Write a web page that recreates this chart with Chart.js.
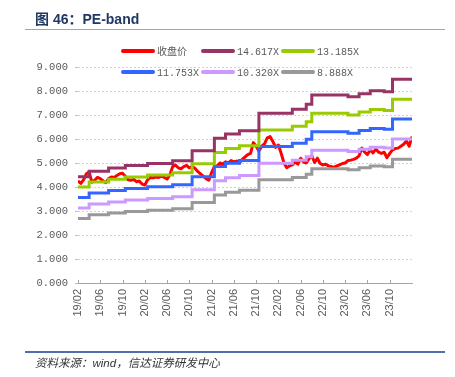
<!DOCTYPE html>
<html>
<head>
<meta charset="utf-8">
<script src="https://cdn.jsdelivr.net/npm/chart.js@4.4.0/dist/chart.umd.min.js"></script>
<style>
  html, body { margin: 0; padding: 0; background: #fff; }
  #wrap { position: relative; width: 455px; height: 377px; overflow: hidden; }
  #pe { position: absolute; left: 0; top: 0; }
  .title { position: absolute; left: 35px; top: 8px; font: bold 14px "Liberation Sans", "Noto Sans CJK SC", sans-serif; color: #1f3864; white-space: nowrap; }
  .rule-top { position: absolute; left: 25px; top: 29px; width: 420px; height: 1px; background: #a6a6a6; }
  .rule-bottom { position: absolute; left: 25px; top: 351px; width: 420px; height: 2px; background: #4f6fa8; }
  .source { position: absolute; left: 35px; top: 354px; font: italic 11.5px "Liberation Sans", "Noto Sans CJK SC", sans-serif; color: #333; white-space: nowrap; }
</style>
</head>
<body>
<div id="wrap">
  <canvas id="pe" width="455" height="377"></canvas>
  <div class="title">图 46：PE-band</div>
  <div class="rule-top"></div>
  <div class="rule-bottom"></div>
  <div class="source">资料来源：wind，信达证券研发中心</div>
</div>
<script>
// x axis: months counted from 2019/02, one tick every 4 months
const tickLabels = ['19/02','19/06','19/10','20/02','20/06','20/10','21/02','21/06','21/10','22/02','22/06','22/10','23/02','23/06','23/10'];

// closing price, one reading every half month from 19/02 to 24/02
const closePrice = [
  4.25, 4.15, 4.30, 4.55, 4.62, 4.20, 4.28, 4.40, 4.35, 4.25,
  4.18, 4.35, 4.42, 4.40, 4.48, 4.55, 4.57, 4.45, 4.30, 4.28,
  4.32, 4.22, 4.25, 4.12, 4.08, 4.30, 4.40, 4.38, 4.42, 4.40,
  4.45, 4.40, 4.33, 4.50, 4.85, 4.92, 4.80, 4.76, 4.85, 4.90,
  4.80, 4.85, 4.78, 4.65, 4.55, 4.45, 4.35, 4.28, 4.60, 4.85,
  4.88, 5.00, 4.95, 5.05, 5.00, 5.10, 5.05, 5.08, 5.00, 5.15,
  5.25, 5.35, 5.40, 5.85, 5.70, 5.50, 5.70, 5.80, 6.05, 6.10,
  5.90, 5.65, 5.75, 5.40, 5.00, 4.80, 4.88, 4.92, 5.05, 4.95,
  5.20, 5.05, 5.00, 5.18, 5.30, 5.02, 5.20, 4.98, 4.92, 4.95,
  4.88, 4.85, 4.82, 4.88, 4.92, 4.98, 5.00, 5.10, 5.12, 5.15,
  5.20, 5.30, 5.62, 5.45, 5.35, 5.55, 5.42, 5.58, 5.45, 5.40,
  5.45, 5.22, 5.40, 5.55, 5.60, 5.62, 5.70, 5.78, 5.92, 5.70,
  6.10
];

// PE bands change in steps; month where each level starts
const stepMonths = [0, 2, 5.5, 8.5, 12.5, 17, 20.5, 24.5, 26.5, 29, 32.5, 38.5, 41, 42, 48.5, 50.5, 52.5, 55, 56.5, 60];
const band14617 = [4.43, 4.66, 4.79, 4.90, 4.98, 5.09, 5.51, 6.03, 6.21, 6.34, 7.07, 7.24, 7.45, 7.83, 7.76, 7.89, 8.01, 7.97, 8.49, 8.49];
const band13185 = [4.00, 4.21, 4.32, 4.42, 4.50, 4.59, 4.97, 5.44, 5.60, 5.72, 6.38, 6.53, 6.72, 7.07, 7.00, 7.12, 7.23, 7.19, 7.66, 7.66];
const band11753 = [3.56, 3.75, 3.85, 3.94, 4.01, 4.09, 4.43, 4.85, 4.99, 5.10, 5.69, 5.82, 5.99, 6.30, 6.24, 6.35, 6.44, 6.41, 6.83, 6.83];
const band10320 = [3.13, 3.29, 3.38, 3.46, 3.52, 3.59, 3.89, 4.26, 4.39, 4.48, 4.99, 5.11, 5.26, 5.53, 5.48, 5.57, 5.66, 5.62, 6.00, 6.00];
const band8888  = [2.69, 2.84, 2.92, 2.98, 3.03, 3.09, 3.35, 3.67, 3.78, 3.86, 4.30, 4.40, 4.53, 4.76, 4.72, 4.80, 4.87, 4.84, 5.16, 5.16];

const seriesNames = ['收盘价', '14.617X', '13.185X', '11.753X', '10.320X', '8.888X'];
const colors = ['#ff0000', '#993366', '#99cc00', '#3366ff', '#cc99ff', '#999999'];

const pricePts = closePrice.map((v, i) => ({ x: i * 0.5, y: v }));
const stepPts = arr => arr.map((v, i) => ({ x: stepMonths[i], y: v }));

function band(idx, arr) {
  return {
    label: seriesNames[idx], data: stepPts(arr), borderColor: colors[idx],
    borderWidth: 3, pointRadius: 0, stepped: 'before', order: 0
  };
}

// legend laid out in two rows of three, like the original
const fixedLegend = {
  id: 'fixedLegend',
  afterDraw(chart) {
    const ctx = chart.ctx;
    const spots = [[122, 51], [202, 51], [282, 51], [122, 72], [202, 72], [282, 72]];
    ctx.save();
    ctx.font = '10px "Liberation Mono", "Noto Sans CJK SC", monospace';
    ctx.textBaseline = 'middle';
    spots.forEach(([x, y], i) => {
      ctx.strokeStyle = colors[i];
      ctx.lineWidth = 4;
      ctx.lineCap = 'round';
      ctx.beginPath();
      ctx.moveTo(x + 1, y);
      ctx.lineTo(x + 31, y);
      ctx.stroke();
      ctx.fillStyle = '#595959';
      ctx.fillText(seriesNames[i], x + 35, y + 1);
    });
    ctx.restore();
  }
};

// short tick marks pointing up from the x axis
const innerTicks = {
  id: 'innerTicks',
  afterDraw(chart) {
    const xs = chart.scales.x, ctx = chart.ctx, b = chart.chartArea.bottom;
    ctx.save();
    ctx.strokeStyle = '#a6a6a6';
    ctx.lineWidth = 1;
    xs.ticks.forEach(t => {
      if (t.value > 56) return;
      const px = Math.round(xs.getPixelForValue(t.value)) + 0.5;
      ctx.beginPath();
      ctx.moveTo(px, b - 3);
      ctx.lineTo(px, b);
      ctx.stroke();
    });
    ctx.restore();
  }
};

new Chart(document.getElementById('pe'), {
  type: 'line',
  data: {
    datasets: [
      { label: seriesNames[0], data: pricePts, borderColor: colors[0], borderWidth: 3, pointRadius: 0, order: 1, borderJoinStyle: 'round' },
      band(1, band14617),
      band(2, band13185),
      band(3, band11753),
      band(4, band10320),
      band(5, band8888)
    ]
  },
  options: {
    responsive: false,
    animation: false,
    layout: { padding: { top: 67, right: 43, bottom: 0, left: 0 } },
    plugins: { legend: { display: false }, tooltip: { enabled: false } },
    scales: {
      x: {
        type: 'linear', min: 0, max: 60,
        afterFit: s => { s.height = 94; },
        grid: { drawOnChartArea: false, drawTicks: false },
        border: { display: true, color: '#a6a6a6', width: 1 },
        ticks: {
          stepSize: 4, autoSkip: false, minRotation: 90, maxRotation: 90, padding: 6,
          color: '#595959', font: { family: 'Liberation Sans', size: 11 },
          callback: v => tickLabels[v / 4] || ''
        }
      },
      y: {
        min: 0, max: 9,
        afterFit: s => { s.width = 78; },
        grid: { color: '#ccd3e3', lineWidth: 1, tickLength: 3, tickColor: '#bfbfbf', tickBorderDash: [] },
        border: { display: false, dash: [2, 2] },
        ticks: {
          stepSize: 1, padding: 7, color: '#595959',
          font: { family: 'Liberation Mono', size: 10.5 },
          callback: v => v.toFixed(3)
        }
      }
    }
  },
  plugins: [fixedLegend, innerTicks]
});
</script>
</body>
</html>
